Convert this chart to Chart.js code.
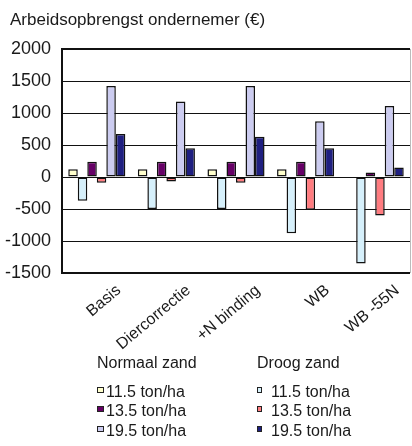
<!DOCTYPE html>
<html lang="nl">
<head>
<meta charset="UTF-8">
<title>Arbeidsopbrengst ondernemer</title>
<script src="https://cdn.jsdelivr.net/npm/chart.js"></script>
<style>
  body { margin: 0; background: #fff; font-family: "Liberation Sans", Arial, sans-serif; }
  #wrap { position: relative; width: 412px; height: 446px; }
  #title { position: absolute; left: 10px; top: 10px; font-size: 17px; color: #1a1a1a; }
  .legend-col { position: absolute; top: 354px; font-size: 16px; color: #1a1a1a; }
  .legend-col .head { margin-bottom: 10px; }
  .legend-col .item { height: 19.4px; line-height: 19.4px; white-space: nowrap; }
  .legend-col .box { display: inline-block; width: 5px; height: 4px; border: 1.5px solid #222; margin-right: 2px; vertical-align: 4px; }
  #legDroog .box { width: 3px; margin-right: 9px; }
</style>
</head>
<body>
<div id="wrap">
  <canvas id="chart" width="412" height="446"></canvas>
  <div id="title">Arbeidsopbrengst ondernemer (€)</div>
  <div class="legend-col" id="legNormaal" style="left:97px"></div>
  <div class="legend-col" id="legDroog" style="left:257px"></div>
</div>
<script>
// data
const categories = ['Basis', 'Diercorrectie', '+N binding', 'WB', 'WB -55N'];
const yieldLabels = ['11.5 ton/ha', '13.5 ton/ha', '19.5 ton/ha'];
const groups = ['Normaal zand', 'Droog zand'];

const normaal115 = [120, 120, 120, 120, 0];
const droog115 = [-370, -500, -500, -880, -1350];
const normaal135 = [240, 240, 240, 240, 70];
const droog135 = [-90, -70, -90, -510, -600];
const normaal195 = [1420, 1180, 1420, 870, 1110];
const droog195 = [670, 450, 630, 450, 150];

const yTicks = [2000, 1500, 1000, 500, 0, -500, -1000, -1500];

const normaalColors = ['#ffffcc', '#660066', '#ccccf0'];
const droogColors = ['#d6f0fb', '#ff7c80', '#1f1f80'];

const normaalData = [normaal115, normaal135, normaal195];
const droogData = [droog115, droog135, droog195];

// bar order inside a group: N11.5, D11.5, N13.5, D13.5, N19.5, D19.5
const datasets = [];
for (let i = 0; i < 3; i++) {
    datasets.push({ label: groups[0] + ' ' + yieldLabels[i], data: normaalData[i], backgroundColor: normaalColors[i] });
    datasets.push({ label: groups[1] + ' ' + yieldLabels[i], data: droogData[i], backgroundColor: droogColors[i] });
}
datasets.forEach(d => {
    d.borderColor = '#111';
    d.borderWidth = 1.5;
    d.borderSkipped = false;
    d.barPercentage = 1;
    d.categoryPercentage = 0.82;
});

// frame around the plot area
const framePlugin = {
    id: 'frame',
    afterDatasetsDraw(chart) {
        const a = chart.chartArea;
        const ctx = chart.ctx;
        ctx.save();
        ctx.strokeStyle = '#111';
        ctx.lineWidth = 2;
        ctx.beginPath();
        ctx.moveTo(a.right, a.top);
        ctx.lineTo(a.left, a.top);
        ctx.lineTo(a.left, a.bottom);
        ctx.lineTo(a.right, a.bottom);
        ctx.stroke();
        ctx.strokeStyle = '#bbb';
        ctx.lineWidth = 1;
        ctx.beginPath();
        ctx.moveTo(a.right + 0.5, a.top);
        ctx.lineTo(a.right + 0.5, a.bottom);
        ctx.stroke();
        ctx.restore();
    }
};

const ctx = document.getElementById('chart').getContext('2d');
new Chart(ctx, {
    type: 'bar',
    data: { labels: categories, datasets: datasets },
    options: {
        responsive: false,
        animation: false,
        layout: { padding: { top: 49, right: 2, left: 0, bottom: 83 } },
        plugins: { legend: { display: false }, tooltip: { enabled: false } },
        scales: {
            x: {
                grid: { display: false, drawTicks: false },
                border: { display: false },
                ticks: {
                    color: '#1a1a1a',
                    font: { family: '"Liberation Sans", Arial, sans-serif', size: 16 },
                    minRotation: 40,
                    maxRotation: 40,
                    labelOffset: 22,
                    padding: 8
                },
                afterFit(scale) { scale.height = 90; }
            },
            y: {
                min: -1500,
                max: 2000,
                afterBuildTicks(scale) { scale.ticks = yTicks.map(v => ({ value: v })); },
                grid: { color: '#111', lineWidth: 1, drawTicks: false },
                border: { display: false },
                ticks: {
                    color: '#1a1a1a',
                    font: { family: '"Liberation Sans", Arial, sans-serif', size: 18 },
                    padding: 11,
                    callback: v => String(v)
                },
                afterFit(scale) { scale.width = 62; }
            }
        }
    },
    plugins: [framePlugin]
});

// legend
function buildLegend(el, head, colors) {
    let html = '<div class="head">' + head + '</div>';
    yieldLabels.forEach((lab, i) => {
        html += '<div class="item"><span class="box" style="background:' + colors[i] + '"></span>' + lab + '</div>';
    });
    el.innerHTML = html;
}
buildLegend(document.getElementById('legNormaal'), groups[0], normaalColors);
buildLegend(document.getElementById('legDroog'), groups[1], droogColors);
</script>
</body>
</html>
